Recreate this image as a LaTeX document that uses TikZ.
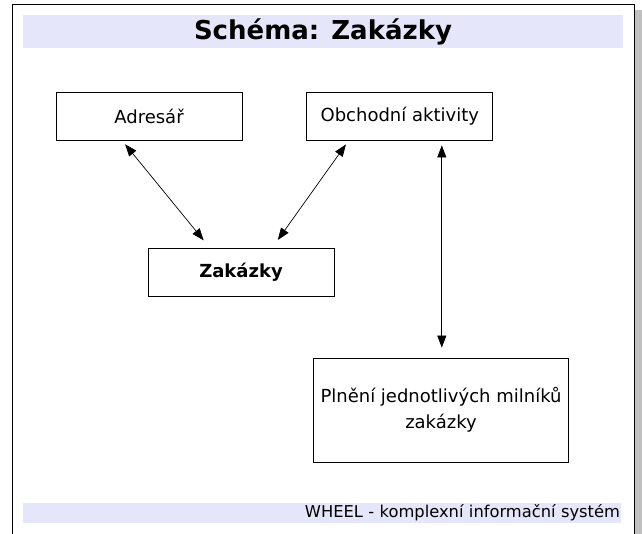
\documentclass[tikz,border=0pt]{standalone}
\usepackage{fontspec}
\setmainfont{DejaVu Sans}
\usetikzlibrary{positioning,arrows.meta}
\definecolor{bandblue}{RGB}{230,230,250}
\definecolor{shadowgrey}{RGB}{192,192,192}

\begin{document}
\begin{tikzpicture}[x=1pt, y=-1pt,
    box/.style={draw, line width=0.8pt, minimum width=186pt, minimum height=48pt,
                inner sep=0pt, font=\fontsize{18}{26}\selectfont},
    link/.style={{Triangle[length=12pt,width=9pt]}-{Triangle[length=12pt,width=9pt]},
                 line width=0.7pt, shorten <=5pt, shorten >=10pt}]

    % Page
    \useasboundingbox (0,0) rectangle (642,533);
    \fill[shadowgrey] (635,10) rectangle (642,540);
    \draw[line width=1pt] (12.5,540) |- (634.5,4.5) -- (634.5,540);

    % Title and footer
    \node[fill=bandblue, minimum width=600pt, minimum height=33pt, inner sep=0pt,
          font=\fontsize{26}{30}\selectfont\bfseries] (title) at (323,31.5) {Schéma: Zakázky};
    \node[fill=bandblue, minimum height=20pt, inner ysep=0pt, inner xsep=1pt,
          text width=596pt, align=right,
          font=\fontsize{16.3}{20}\selectfont] (foot) at (322,513) {WHEEL - komplexní informační systém};

    % Define nodes
    \node[box]                      (adr) at (149,116) {Adresář};
    \node[box, right=64pt of adr]  (obch) {Obchodní aktivity};
    \node[box, font=\fontsize{18}{26}\selectfont\bfseries] (zak) at (241,272.5) {Zakázky};
    \node[box, minimum width=255pt, minimum height=104pt, align=center]
                                    (pln) at (441,410) {Plnění jednotlivých milníků\\zakázky};

    % Connect the nodes
    \draw[link] ([xshift=-27pt]adr.south)  -- ([xshift=-31pt]zak.north);
    \draw[link] ([xshift=-51pt]obch.south) -- ([xshift=31pt]zak.north);
    \draw[link] ([xshift=42pt]obch.south)  -- ([xshift=42pt]obch.south |- pln.north);

\end{tikzpicture}
\end{document}
